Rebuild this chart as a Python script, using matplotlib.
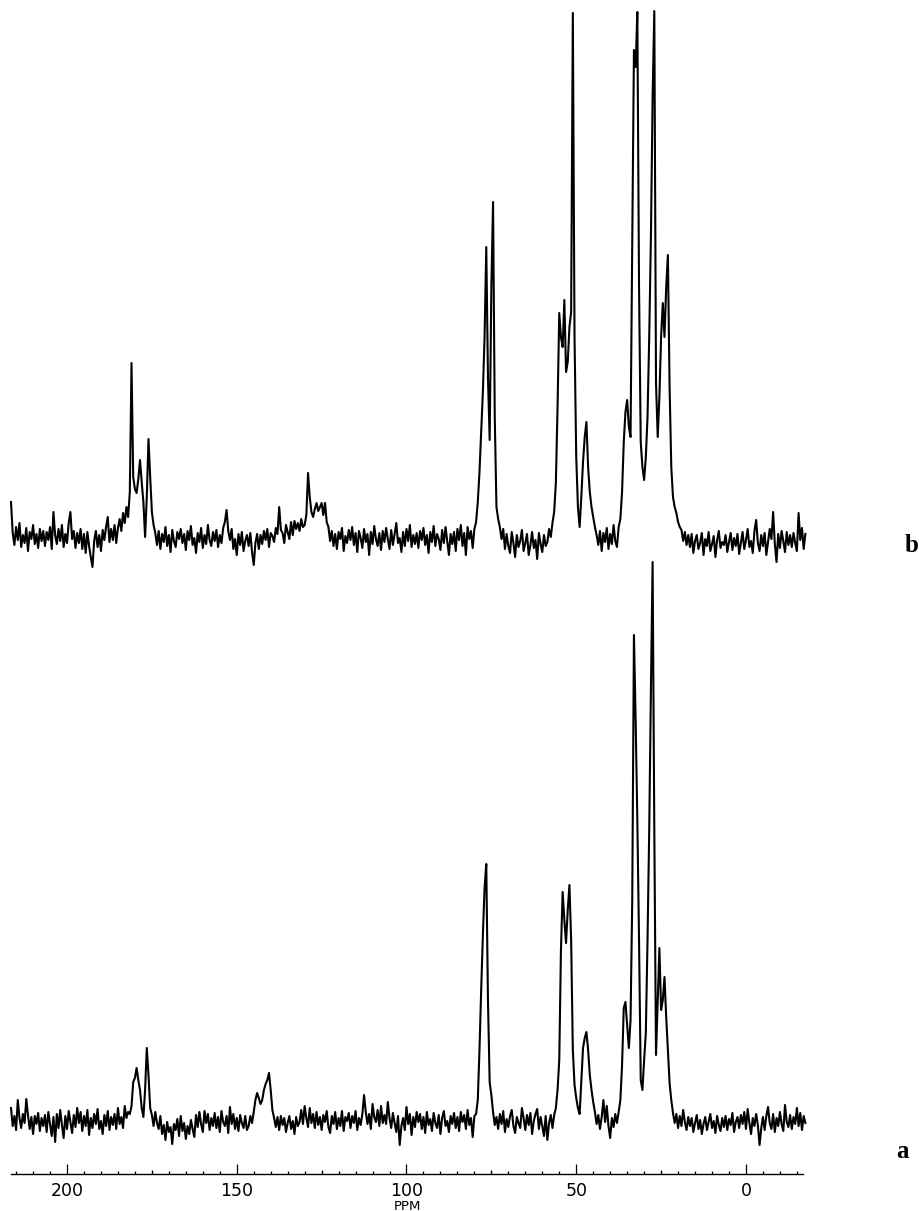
import numpy as np
import matplotlib.pyplot as plt
from matplotlib.ticker import MultipleLocator, FixedLocator, NullFormatter

# Both traces are sampled every 0.5 ppm, starting at 216.5 ppm
ppm_start = 216.5
ppm_step = 0.5

# Trace a (lower spectrum): height above its baseline, one row = 10 ppm
spec_a = [
    12, -6, 4, -10, 20, 2, -8, 6, -3, 21, 5, -9, 3, -14, 4, -4, 7, -11, 2, -6,            # 216.5
    5, -12, 8, -4, -16, 3, -22, 6, -8, 10, -5, -18, 4, -9, 9, -2, -13, 5, -7, 12,         # 206.5
    -3, 8, -11, 4, -6, 10, -15, 2, -8, 6, -4, 11, -9, -1, -14, 5, -6, 9, -10, 3,          # 196.5
    -5, 6, -9, 12, -4, 3, -8, 14, 2, 8, 6, 14, 38, 42, 52, 40, 30, 12, 3, 30,             # 186.5
    72, 45, 12, 5, -6, 8, -3, -9, 4, -14, -5, -20, -2, -12, -7, -24, -4, -10, 1, -16,     # 176.5
    4, -11, -3, -19, -6, -14, 0, -9, -17, 5, -7, 8, -4, -12, 9, -3, 6, -10, 2, -6,        # 166.5
    7, -8, 3, -12, 9, -2, -6, 4, -13, 13, -4, 6, -9, 2, -11, 5, -3, -8, 4, -10,           # 156.5
    -6, 4, -3, 8, 20, 27, 22, 16, 20, 30, 36, 40, 47, 30, 10, 2, -7, 3, -10, 4,           # 146.5
    -5, 2, -12, -3, 4, -9, -1, -14, 3, -6, -2, 10, -4, 14, 2, -7, 12, -3, 6, -8,          # 136.5
    8, -5, 3, -10, 5, -2, 9, -7, -13, 4, -4, 8, -9, 2, -6, 9, -11, 3, -1, 7,              # 126.5
    -8, 4, -3, 9, -10, 2, -5, 6, 25, 8, -4, 6, -9, 16, 3, -2, 10, -6, 14, -3,             # 116.5
    5, -4, 18, 2, -8, 7, -3, -12, 4, -25, -6, 2, -10, 13, -4, 6, -15, 3, -7, 8,           # 106.5
    -2, 6, -9, 3, -13, 8, -5, 1, -11, 7, -3, -8, 5, -14, 2, 9, -6, -1, -12, 4,            # 96.5
    -4, 7, -8, 3, -11, 8, -2, 5, -9, 10, -5, 2, -17, 4, 6, 20, 70, 130, 185, 232,         # 86.5
    256, 120, 38, 25, 8, -5, 3, -9, 6, -4, 9, -12, 1, -7, 4, 10, -6, -13, 3, -3,          # 76.5
    -8, 12, 2, -10, 5, -5, 7, -14, -1, 6, 11, -9, 3, -6, -16, 4, -20, -3, 5, -8,          # 66.5
    5, 12, 30, 60, 170, 228, 200, 177, 210, 235, 180, 70, 35, 22, 12, 6, 40, 72, 82, 88,  # 56.5
    70, 45, 30, 18, 8, -4, 5, -9, 3, 20, -2, 14, -6, -18, 2, -7, 6, -3, 8, 20,            # 46.5
    55, 112, 118, 95, 72, 100, 220, 485, 400, 300, 180, 40, 30, 60, 87, 180, 290, 430, 558, 290,  # 36.5
    65, 120, 172, 110, 120, 143, 103, 70, 37, 20, 7, -3, 6, -8, 4, -6, 10, -2, -10, 3,    # 26.5
    -6, 2, -12, -3, 5, -9, 0, -14, -4, 3, -10, -2, 6, -8, -1, -13, 4, -5, -11, 2,         # 16.5
    -7, 4, -10, 1, -5, 7, -12, -2, 3, -8, 5, -4, 8, -9, 11, -3, -14, 2, -6, 6,            # 6.5
    -5, -25, -8, 3, -10, 4, 13, -3, -9, 6, -12, 2, -6, 8, -4, -11, 15, -2, -7, 5,         # -3.5
    -9, 3, -4, 12, -6, 7, -10, 4, -3,                                                     # -13.5
]

# Trace b (upper spectrum)
spec_b = [
    35, 4, -8, 10, -3, 14, -10, 2, -6, 9, -14, 5, -2, 12, -7, 3, -11, 8, -4, 6,           # 216.5
    -9, 5, -3, 10, -12, 25, 2, -7, 8, -4, 12, -10, 3, -6, 14, 25, -2, 6, -11, 4,          # 206.5
    -6, 8, -12, 3, -16, 5, -9, -20, -30, -4, 6, -10, 2, -14, 7, -3, 10, 20, -5, 8,        # 196.5
    -3, 12, -6, 9, 18, 6, 24, 14, 30, 20, 45, 174, 60, 48, 44, 58, 77, 55, 35, 0,         # 186.5
    40, 98, 60, 25, 12, 4, -8, 6, -12, 3, -5, 10, -9, 2, -15, 7, -4, -10, 5, -2,          # 176.5
    8, -6, 3, -13, 6, -3, 11, -8, -1, -16, 4, -5, 9, -11, 2, -7, 12, -3, -9, 5,           # 166.5
    -4, 7, -10, 2, -6, 9, 15, 27, 6, -3, 8, -12, -2, -18, 3, -8, 5, -14, -4, 2,           # 156.5
    -9, 4, -15, -28, -6, 3, -12, 2, -7, 6, -3, 8, -10, 4, 1, -5, 9, 3, 30, 7,             # 146.5
    4, -6, 12, 5, -2, 15, 2, 16, 8, 14, 6, 18, 10, 12, 22, 64, 40, 25, 20, 28,            # 136.5
    34, 26, 30, 34, 22, 34, 15, 10, -4, 6, -9, 3, -12, 5, -2, 9, -14, 1, -6, 7,           # 126.5
    -3, 10, -8, 4, -15, 6, -1, -11, 8, -5, 3, -18, 5, -7, 11, -2, -9, 4, -13, 6,          # 116.5
    -5, 9, -2, -12, 7, -8, 3, 14, -6, -1, -15, 5, -9, 8, -4, 12, -10, 2, -7, 4,           # 106.5
    -11, 6, -3, 9, -8, 2, -16, 5, -5, 11, -9, 3, -2, -13, 7, -6, 10, -4, -18, 3,          # 96.5
    -7, 5, -14, 8, -3, 12, -9, 4, -18, 10, -2, 6, -11, 8, 15, 35, 65, 104, 145, 200,      # 86.5
    290, 160, 97, 250, 335, 120, 30, 18, 10, -2, 8, -12, 3, -9, -16, 5, -6, -20, 2, -10,  # 76.5
    -4, 7, -14, -6, 3, -18, -8, 5, -11, -3, -22, 4, -7, -15, 2, -9, -5, 8, 0, 14,         # 66.5
    25, 54, 130, 224, 200, 190, 237, 165, 175, 210, 225, 524, 200, 80, 30, 10, 40, 75, 100, 115,  # 56.5
    70, 45, 30, 20, 10, 2, -8, 6, -14, 4, -5, 9, -12, 3, -7, 12, -4, -10, 10, 18,         # 46.5
    45, 95, 125, 137, 110, 100, 290, 487, 470, 525, 250, 95, 70, 57, 80, 120, 200, 300, 440, 526,  # 36.5
    154, 100, 140, 200, 234, 200, 250, 282, 150, 70, 40, 30, 24, 15, 10, 7, -4, 5, -8, 2,  # 26.5
    -10, 3, -16, -4, 2, -12, -6, 4, -18, -2, -9, 5, -14, -7, 1, -20, -3, 6, -11, -5,      # 16.5
    -8, 2, -15, -5, 4, -13, -1, -9, 3, -17, -6, 5, -12, -3, 8, -10, -4, -16, 6, 17,       # 6.5
    -6, -14, 2, -9, 4, -18, -5, 8, -2, 25, -7, -25, 3, -11, 6, -4, -15, 5, -8, 2,         # -3.5
    -10, 4, -6, -14, 24, -3, 9, -12, 3,                                                   # -13.5
]

major_ticks = [200, 150, 100, 50, 0]
tick_labels = ['200', '150', '100', '50', '0']
mid_ticks = [175, 125, 75, 25]

# vertical placement of the two traces (axes units = pixels above the axis line)
base_a = 54
base_b = 637

ppm_a = ppm_start - ppm_step * np.arange(len(spec_a))
ppm_b = ppm_start - ppm_step * np.arange(len(spec_b))

fig = plt.figure(figsize=(9.2, 12.11), dpi=100)
ax = fig.add_axes([11 / 920, 37 / 1211, 792 / 920, 1174 / 1211])

ax.plot(ppm_a, np.array(spec_a) + base_a, color='black', lw=1.5, clip_on=False)
ax.plot(ppm_b, np.array(spec_b) + base_b, color='black', lw=1.5, clip_on=False)

ax.set_xlim(216.5, -16.8)
ax.set_ylim(0, 1174)

for side in ['left', 'right', 'top']:
    ax.spines[side].set_visible(False)
ax.spines['bottom'].set_linewidth(1.0)
ax.set_yticks([])

ax.xaxis.set_major_locator(FixedLocator(major_ticks))
ax.set_xticklabels(tick_labels)
ax.xaxis.set_minor_locator(MultipleLocator(5))
ax.tick_params(axis='x', which='major', direction='in', length=7.5, width=0.9,
               labelsize=12.5, pad=6.0)
ax.tick_params(axis='x', which='minor', direction='in', length=2.0, width=0.9)
ax.set_xlabel('PPM', fontsize=9.5, labelpad=0)

# medium ticks halfway between the labelled ones
sec = ax.secondary_xaxis('bottom')
sec.xaxis.set_major_locator(FixedLocator(mid_ticks))
sec.xaxis.set_major_formatter(NullFormatter())
sec.tick_params(direction='in', length=3.2, width=0.9)
sec.spines['bottom'].set_visible(False)

fig.text(903 / 920, 1 - 1158 / 1211, 'a', ha='center', va='baseline',
         fontsize=18, fontweight='bold', family='Liberation Serif')
fig.text(912 / 920, 1 - 552 / 1211, 'b', ha='center', va='baseline',
         fontsize=18, fontweight='bold', family='Liberation Serif')

fig.savefig('out.png', dpi=100)
